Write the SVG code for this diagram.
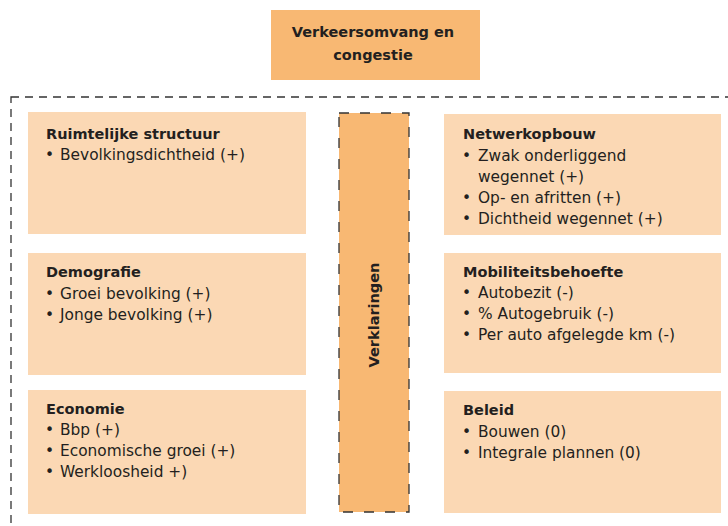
<svg xmlns="http://www.w3.org/2000/svg" width="728" height="526" viewBox="0 0 728 526">
<style>
.box{fill:#FBD8B4;}
.dark{fill:#F8B873;}
text{font-family:"DejaVu Sans","Liberation Sans",sans-serif;font-size:15.4px;fill:#231F20;}
.h{font-weight:bold;font-size:14.5px;}
.c{text-anchor:middle;}
</style>
<rect x="0" y="0" width="728" height="526" fill="#ffffff"/>
<g id="outer">
<rect x="11" y="97" width="740" height="460" fill="none" stroke="#333" stroke-width="1.3" stroke-dasharray="8,6"/>
</g>
<g id="top">
<rect class="dark" x="271" y="10" width="209" height="70"/>
<text class="h c" x="373" y="37">Verkeersomvang en</text>
<text class="h c" x="373" y="60">congestie</text>
</g>
<g id="ruimtelijk">
<rect class="box" x="28" y="112" width="278" height="122"/>
<text class="h" x="46" y="139">Ruimtelijke structuur</text>
<text x="45" y="160">•</text><text x="60" y="160">Bevolkingsdichtheid (+)</text>
</g>
<g id="demografie">
<rect class="box" x="28" y="253" width="278" height="122"/>
<text class="h" x="46" y="277">Demografie</text>
<text x="45" y="299">•</text><text x="60" y="299">Groei bevolking (+)</text>
<text x="45" y="320">•</text><text x="60" y="320">Jonge bevolking (+)</text>
</g>
<g id="economie">
<rect class="box" x="28" y="390" width="278" height="124"/>
<text class="h" x="46" y="414">Economie</text>
<text x="45" y="435">•</text><text x="60" y="435">Bbp (+)</text>
<text x="45" y="456">•</text><text x="60" y="456">Economische groei (+)</text>
<text x="45" y="477">•</text><text x="60" y="477">Werkloosheid +)</text>
</g>
<g id="verklaringen">
<rect class="dark" x="339" y="113" width="70" height="399" stroke="#333" stroke-width="1.3" stroke-dasharray="10,11"/>
<text class="h c" transform="translate(379,315) rotate(-90)">Verklaringen</text>
</g>
<g id="netwerk">
<rect class="box" x="444" y="114" width="277" height="121"/>
<text class="h" x="463" y="139">Netwerkopbouw</text>
<text x="462" y="161">•</text><text x="478" y="161">Zwak onderliggend</text>
<text x="478" y="182">wegennet (+)</text>
<text x="462" y="203">•</text><text x="478" y="203">Op- en afritten (+)</text>
<text x="462" y="224">•</text><text x="478" y="224">Dichtheid wegennet (+)</text>
</g>
<g id="mobiliteit">
<rect class="box" x="444" y="253" width="277" height="120"/>
<text class="h" x="463" y="277">Mobiliteitsbehoefte</text>
<text x="462" y="298">•</text><text x="478" y="298">Autobezit (-)</text>
<text x="462" y="319">•</text><text x="478" y="319">% Autogebruik (-)</text>
<text x="462" y="340">•</text><text x="478" y="340">Per auto afgelegde km (-)</text>
</g>
<g id="beleid">
<rect class="box" x="444" y="391" width="277" height="122"/>
<text class="h" x="463" y="415">Beleid</text>
<text x="462" y="437">•</text><text x="478" y="437">Bouwen (0)</text>
<text x="462" y="458">•</text><text x="478" y="458">Integrale plannen (0)</text>
</g>
<g id="connectors"></g>
</svg>
